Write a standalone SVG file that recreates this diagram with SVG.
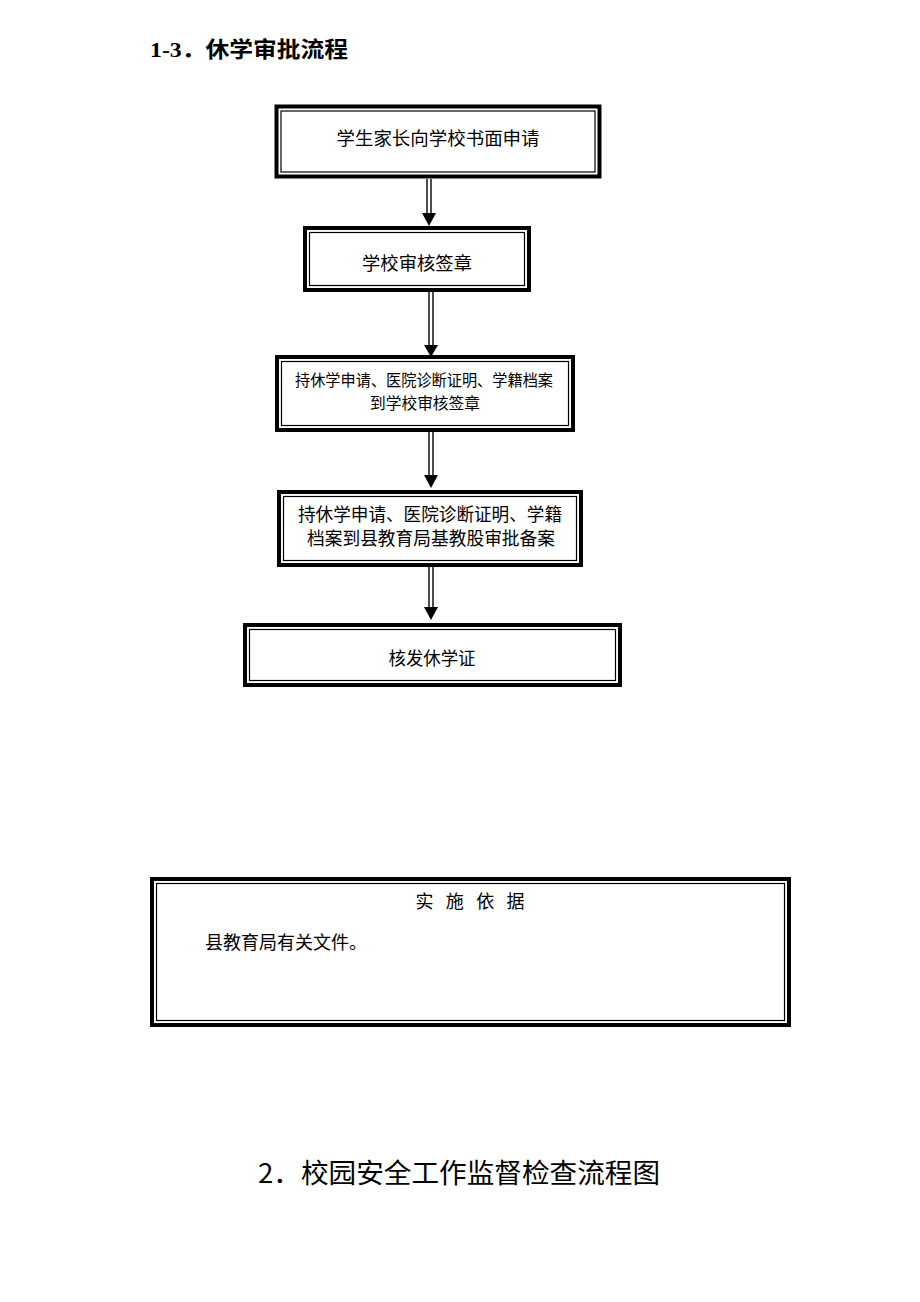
<svg xmlns="http://www.w3.org/2000/svg" width="920" height="1302" viewBox="0 0 920 1302">
<style>
.outer{fill:#fff;stroke:#000;stroke-width:4}
.inner{fill:none;stroke:#000;stroke-width:1.2}
.t{font-family:"Noto Sans CJK SC","Liberation Sans",sans-serif;font-size:18px;fill:#000;text-anchor:middle}
.s{font-size:16px}
.sh{stroke:#000;stroke-width:1.4}
.head{fill:#000}
.title{font-family:"Liberation Serif","Noto Sans CJK SC",serif;fill:#000}
</style>
<rect width="920" height="1302" fill="#fff"/>
<text class="title" x="150" y="57" font-size="22" font-weight="bold" textLength="198" lengthAdjust="spacingAndGlyphs">1-3．<tspan font-family="Noto Sans CJK SC, sans-serif">休学审批流程</tspan></text>

<g id="connectors">
  <g id="c1"><line class="sh" x1="427" y1="179" x2="427" y2="214"/><line class="sh" x1="431" y1="179" x2="431" y2="214"/><polygon class="head" points="422,213 436,213 429,226"/></g>
  <g id="c2"><line class="sh" x1="429" y1="292" x2="429" y2="346"/><line class="sh" x1="433" y1="292" x2="433" y2="346"/><polygon class="head" points="424,345 438,345 431,357"/></g>
  <g id="c3"><line class="sh" x1="429" y1="432" x2="429" y2="476"/><line class="sh" x1="433" y1="432" x2="433" y2="476"/><polygon class="head" points="424,475 438,475 431,488"/></g>
  <g id="c4"><line class="sh" x1="429" y1="567" x2="429" y2="608"/><line class="sh" x1="433" y1="567" x2="433" y2="608"/><polygon class="head" points="424,607 438,607 431,620"/></g>
</g>

<g id="n1">
  <rect class="outer" x="276.5" y="106.5" width="323" height="70"/>
  <rect class="inner" x="281" y="111" width="314" height="61"/>
  <text class="t" x="438" y="145" textLength="203" lengthAdjust="spacingAndGlyphs">学生家长向学校书面申请</text>
</g>
<g id="n2">
  <rect class="outer" x="305" y="228" width="224" height="62"/>
  <rect class="inner" x="309.5" y="232.5" width="215" height="53"/>
  <text class="t" x="417" y="270" textLength="110" lengthAdjust="spacingAndGlyphs">学校审核签章</text>
</g>
<g id="n3">
  <rect class="outer" x="277" y="357" width="296" height="73"/>
  <rect class="inner" x="281.5" y="361.5" width="287" height="64"/>
  <text class="t s" x="424" y="386" textLength="258" lengthAdjust="spacingAndGlyphs">持休学申请、医院诊断证明、学籍档案</text>
  <text class="t s" x="425" y="409" textLength="110" lengthAdjust="spacingAndGlyphs">到学校审核签章</text>
</g>
<g id="n4">
  <rect class="outer" x="279" y="492" width="302" height="73"/>
  <rect class="inner" x="283.5" y="496.5" width="293" height="64"/>
  <text class="t" x="430" y="521" textLength="264" lengthAdjust="spacingAndGlyphs">持休学申请、医院诊断证明、学籍</text>
  <text class="t" x="431" y="545" textLength="248" lengthAdjust="spacingAndGlyphs">档案到县教育局基教股审批备案</text>
</g>
<g id="n5">
  <rect class="outer" x="245" y="625" width="375" height="60"/>
  <rect class="inner" x="249.5" y="629.5" width="366" height="51"/>
  <text class="t" x="432" y="665" textLength="87" lengthAdjust="spacingAndGlyphs">核发休学证</text>
</g>

<g id="basis">
  <rect class="outer" x="152" y="879" width="637" height="146"/>
  <rect class="inner" x="156.5" y="883.5" width="628" height="137"/>
  <text class="t" x="470" y="908" textLength="109">实 施 依  据</text>
  <text class="t" x="205" y="949" style="text-anchor:start">县教育局有关文件。</text>
</g>

<text x="258" y="1183" font-size="27" font-family="Noto Sans CJK SC, sans-serif" fill="#000" textLength="402" lengthAdjust="spacingAndGlyphs">2．校园安全工作监督检查流程图</text>
</svg>
